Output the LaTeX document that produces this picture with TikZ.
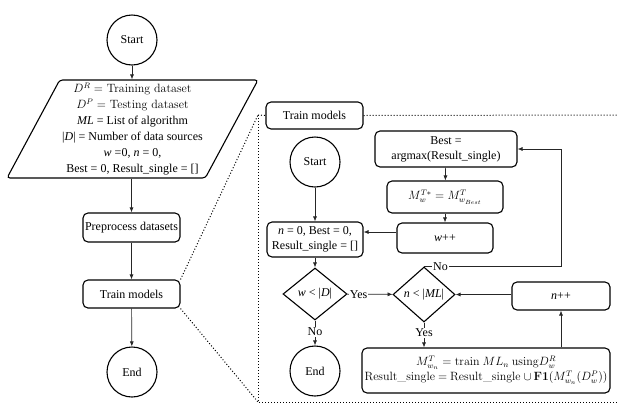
\documentclass[tikz,border=0pt]{standalone}
\usepackage[no-math]{fontspec}
\setmainfont{Liberation Serif}
\usetikzlibrary{arrows.meta,shapes.geometric}
\newcommand\lmtext{\fontfamily{lmr}\selectfont}

\begin{document}
\begin{tikzpicture}[x=1pt,y=-1pt,
  font=\fontsize{12}{15}\selectfont,
  box/.style={draw, line width=1.1pt, rounded corners=5pt, inner sep=1pt, align=center},
  term/.style={draw, circle, line width=1.1pt, minimum size=50pt, inner sep=0pt},
  cond/.style={draw, diamond, line width=1.1pt, inner sep=0pt},
  arr/.style={draw=black!85, line width=0.7pt, -{Latex[length=5pt,width=4pt]}},
  zoomline/.style={dotted, line width=1pt},
  lbl/.style={fill=white, inner sep=1pt}]
\useasboundingbox (0,0) rectangle (617,405);

% ---- main flow ----
\node[term] (start1) at (132,40) {Start};
\node[draw, line width=1.1pt, rounded corners=3pt, trapezium,
      trapezium left angle=60.3, trapezium right angle=119.7,
      trapezium stretches body=true, minimum width=251pt, minimum height=98pt,
      inner sep=0pt, align=center, font=\fontsize{12}{16}\selectfont]
  (input) at (132.5,129)
  {{\lmtext $D^R =$ Training dataset}\\
   {\lmtext $D^P =$ Testing dataset}\\
   \textit{ML} = List of algorithm\\
   |\textit{D}| = Number of data sources\\
   \textit{w} =0, \textit{n} = 0,\\
   Best = 0, Result\_single = []};
\node[box, minimum width=97pt, minimum height=29pt] (prep) at (131.5,227.5) {Preprocess datasets};
\node[box, minimum width=97pt, minimum height=28pt] (train1) at (131.5,294) {Train models};
\node[term] (end1) at (132,372) {End};

\draw[arr] (start1) -- (input.north -| start1);
\draw[arr] (input.south -| prep) -- (prep);
\draw[arr] (prep) -- (train1);
\draw[arr] (train1) -- (end1);

% ---- detail of the training step ----
\node[box, minimum width=97pt, minimum height=27pt] (trainhdr) at (314.5,115.5) {Train models};
\node[term] (start2) at (315,162) {Start};
\node[box, minimum width=142pt, minimum height=36pt, font=\fontsize{12}{15}\selectfont]
  (best) at (446,149) {Best =\\argmax(Result\_single)};
\node[box, minimum width=116pt, minimum height=32pt] (mbox) at (445,197)
  {$M_w^{T*} = M^T_{w_{Best}}$};
\node[box, minimum width=96pt, minimum height=30pt] (wpp) at (445,238) {\textit{w}++};
\node[box, minimum width=96pt, minimum height=35pt] (n0) at (315,239.5)
  {\textit{n} = 0, Best = 0,\\Result\_single = []};
\node[cond, minimum width=64pt, minimum height=52pt] (dw) at (315,294)
  {\textit{w} < |\textit{D}|};
\node[cond, minimum width=62pt, minimum height=55pt] (dn) at (424,294.5)
  {\textit{n} < |\textit{ML}|};
\node[box, minimum width=98pt, minimum height=28pt] (npp) at (561,296) {\textit{n}++};
\node[term] (end2) at (315,371) {End};
\node[box, minimum width=248pt, minimum height=45pt, inner sep=0pt] (trainbox) at (486,370.5)
  {$M^T_{w_n} = \mathrm{train}\ ML_n\ \mathrm{using} D^R_w$\\
   {\lmtext Result\_single} $=$ {\lmtext Result\_single} $\cup\,\mathbf{F1}(M^T_{w_n}(D^P_w))$};

\coordinate (wy) at (0,232);
\draw[arr] (start2) -- (n0);
\draw[arr] (n0) -- (dw);
\draw[arr] (dw) -- node[lbl, pos=0.25] {Yes} (dn);
\draw[arr] (dw) -- node[lbl, pos=0.45] {No} (end2);
\draw[arr] (dn.south) -- node[lbl, pos=0.4] {Yes} (dn.south |- trainbox.north);
\draw[arr] (trainbox.north -| npp) -- (npp);
\draw[arr] (npp.west |- dn.east) -- (dn.east);
\draw[arr] (dn.north) -- node[lbl, pos=0.12] {No} (dn.north -| npp) |- (best.east);
\draw[arr] (best) -- (mbox);
\draw[arr] (mbox) -- (wpp);
\draw[arr] (wpp.west |- wy) -- (n0.east |- wy);

% ---- dotted zoom frame ----
\coordinate (fTL) at (258,115);
\coordinate (fBL) at (258,402);
\coordinate (fTR) at (617,115);
\coordinate (fBR) at (617,402);
\draw[zoomline] (train1.north east) -- (fTL);
\draw[zoomline] (train1.south east) -- (fBL);
\draw[zoomline] (fTL) -- (trainhdr.west);
\draw[zoomline] (trainhdr.east) -- (fTR);
\draw[zoomline] (fTL) -- (fBL) -- (fBR);
\end{tikzpicture}
\end{document}
